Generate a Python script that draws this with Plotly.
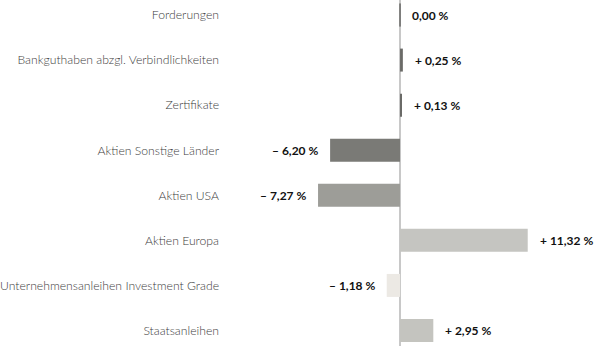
import plotly.graph_objects as go

categories = [
    "Forderungen",
    "Bankguthaben abzgl. Verbindlichkeiten",
    "Zertifikate",
    "Aktien Sonstige Länder",
    "Aktien USA",
    "Aktien Europa",
    "Unternehmensanleihen Investment Grade",
    "Staatsanleihen",
]
values = [0.00, 0.25, 0.13, -6.20, -7.27, 11.32, -1.18, 2.95]
colors = ["#6a6a67", "#6a6a67", "#6a6a67", "#7a7a76", "#9d9d98",
          "#c5c5c1", "#ece9e4", "#c4c4bf"]


def fmt(v):
    s = f"{abs(v):.2f}".replace(".", ",")
    if v > 0:
        return f"+ {s} %"
    if v < 0:
        return f"\u2013 {s} %"
    return f"{s} %"


fig = go.Figure()
fig.add_trace(go.Bar(
    x=values,
    y=list(range(len(categories))),
    orientation="h",
    width=0.51,
    marker=dict(color=colors,
                line=dict(color=colors, width=[1, 0, 0, 0, 0, 0, 0, 0])),
    hoverinfo="skip",
))

for i, (c, v) in enumerate(zip(categories, values)):
    fig.add_annotation(
        x=v, y=i, xref="x", yref="y",
        text=fmt(v), showarrow=False,
        xanchor="right" if v < 0 else "left",
        xshift=-10 if v < 0 else 10,
        font=dict(family="Lato", size=12, color="#111111", weight="bold"),
    )

fig.update_layout(
    width=599, height=346,
    margin=dict(l=226, r=0, t=0, b=0),
    paper_bgcolor="white", plot_bgcolor="white",
    showlegend=False,
    xaxis=dict(range=[-15.43, 17.64], showgrid=False, showticklabels=False,
               zeroline=True, zerolinecolor="#c8c8c8", zerolinewidth=2,
               fixedrange=True),
    yaxis=dict(range=[7.344, -0.333], showgrid=False, zeroline=False,
               tickmode="array", tickvals=list(range(len(categories))),
               ticktext=categories, ticks="", ticklabelstandoff=6,
               tickfont=dict(family="Lato", size=12.2, color="#3c3c3c", weight=300),
               automargin=False, fixedrange=True),
)

fig.write_html("out.html")
